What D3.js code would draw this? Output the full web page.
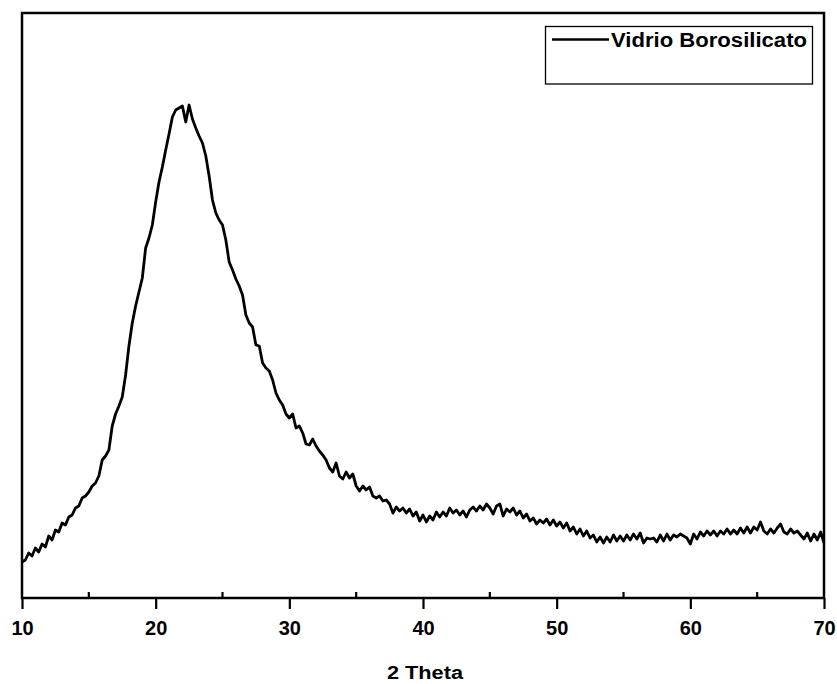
<!DOCTYPE html>
<html>
<head>
<meta charset="utf-8">
<script src="https://cdn.jsdelivr.net/npm/d3@7"></script>
<style>
  html, body { margin: 0; padding: 0; background: #fff; }
  svg { display: block; font-family: Arial, "Liberation Sans", sans-serif; }
</style>
</head>
<body>
<svg id="chart" width="837" height="684"></svg>
<script>
// XRD scan, 2 theta from 10 to 70 in steps of 0.25 deg
var scanStart = 10, scanStep = 0.25;
var seriesName = 'Vidrio Borosilicato';
var xTicksMajor = [10, 20, 30, 40, 50, 60, 70];
var xTicksMinor = [15, 25, 35, 45, 55, 65];

// intensity (a.u.), one value per step
var intensity = [
    36, 38, 45, 42, 50, 46, 54, 51, 62, 58,
    68, 66, 75, 73, 81, 83, 90, 92, 100, 102,
    106, 112, 115, 122, 138, 142, 148, 172, 184, 192,
    201, 223, 252, 275, 292, 306, 320, 350, 360, 373,
    396, 416, 431, 448, 464, 481, 488, 490, 492, 476,
    493, 479, 470, 462, 455, 442, 422, 398, 385, 378,
    373, 358, 336, 328, 319, 312, 303, 283, 275, 271,
    253, 252, 235, 230, 227, 218, 205, 198, 193, 184,
    180, 184, 170, 172, 165, 154, 153, 159, 152, 147,
    143, 138, 130, 126, 135, 122, 119, 126, 120, 124,
    112, 107, 112, 108, 111, 102, 100, 102, 97, 98,
    94, 85, 91, 87, 90, 85, 89, 82, 86, 77,
    83, 76, 82, 78, 86, 81, 86, 82, 90, 85,
    88, 83, 87, 81, 88, 91, 87, 92, 88, 94,
    90, 84, 92, 94, 82, 89, 86, 90, 83, 87,
    80, 84, 77, 80, 74, 78, 75, 79, 73, 78,
    72, 76, 70, 75, 67, 71, 64, 69, 62, 67,
    60, 63, 56, 61, 55, 61, 56, 63, 57, 62,
    57, 63, 58, 64, 59, 65, 55, 60, 59, 60,
    56, 63, 57, 64, 58, 63, 61, 64, 62, 60,
    54, 64, 59, 66, 62, 67, 63, 67, 62, 67,
    64, 69, 64, 68, 64, 70, 65, 71, 65, 71,
    68, 76, 67, 64, 69, 65, 70, 74, 66, 64,
    69, 65, 67, 63, 59, 65, 57, 64, 58, 66,
    55
];

var data = intensity.map(function(v, i) {
    return { theta: scanStart + i * scanStep, counts: v };
});

var margin = { top: 13, right: 13, bottom: 86, left: 22 },
    totalWidth = 837, totalHeight = 684,
    width = totalWidth - margin.left - margin.right,
    height = totalHeight - margin.top - margin.bottom;

var svg = d3.select('#chart');
var chart = svg.append('g')
    .attr('transform', 'translate(' + margin.left + ',' + margin.top + ')');

var x = d3.scaleLinear().domain([10, 70]).range([0, width]);
var y = d3.scaleLinear().domain([0, 585]).range([height, 0]);

// data line
var line = d3.line()
    .x(function(d) { return x(d.theta); })
    .y(function(d) { return y(d.counts); });

chart.append('path')
    .datum(data)
    .attr('d', line)
    .attr('fill', 'none')
    .attr('stroke', '#000')
    .attr('stroke-width', 2.8)
    .attr('stroke-linejoin', 'round');

// frame
chart.append('rect')
    .attr('width', width)
    .attr('height', height)
    .attr('fill', 'none')
    .attr('stroke', '#000')
    .attr('stroke-width', 2.5);

// bottom axis: major ticks out, minor ticks in
var xAxis = chart.append('g')
    .attr('transform', 'translate(0,' + height + ')')
    .call(d3.axisBottom(x).tickValues(xTicksMajor).tickSize(11).tickPadding(12).tickFormat(d3.format('d')));
xAxis.select('.domain').remove();
xAxis.selectAll('.tick line').attr('stroke-width', 2.2);
xAxis.selectAll('.tick text')
    .attr('fill', '#000')
    .attr('font-size', '20px')
    .attr('font-weight', 'bold')
    .attr('font-family', 'Arial, "Liberation Sans", sans-serif');

chart.append('g')
    .selectAll('line')
    .data(xTicksMinor)
    .join('line')
    .attr('x1', d => x(d))
    .attr('x2', d => x(d))
    .attr('y1', height)
    .attr('y2', height - 6)
    .attr('stroke', '#000')
    .attr('stroke-width', 2.2);

// axis title
svg.append('text')
    .attr('x', 425)
    .attr('y', 679)
    .attr('text-anchor', 'middle')
    .attr('font-size', '18px')
    .attr('font-weight', 'bold')
    .attr('textLength', 76)
    .attr('lengthAdjust', 'spacingAndGlyphs')
    .text('2 Theta');

// legend
var legend = svg.append('g');
legend.append('rect')
    .attr('x', 545.5)
    .attr('y', 26.5)
    .attr('width', 267)
    .attr('height', 57.5)
    .attr('fill', '#fff')
    .attr('stroke', '#000')
    .attr('stroke-width', 1.3);
legend.append('line')
    .attr('x1', 552)
    .attr('x2', 609)
    .attr('y1', 39.5)
    .attr('y2', 39.5)
    .attr('stroke', '#000')
    .attr('stroke-width', 2.4);
legend.append('text')
    .attr('x', 611)
    .attr('y', 47)
    .attr('font-size', '20px')
    .attr('font-weight', 'bold')
    .attr('textLength', 196)
    .attr('lengthAdjust', 'spacingAndGlyphs')
    .text(seriesName);
</script>
</body>
</html>
